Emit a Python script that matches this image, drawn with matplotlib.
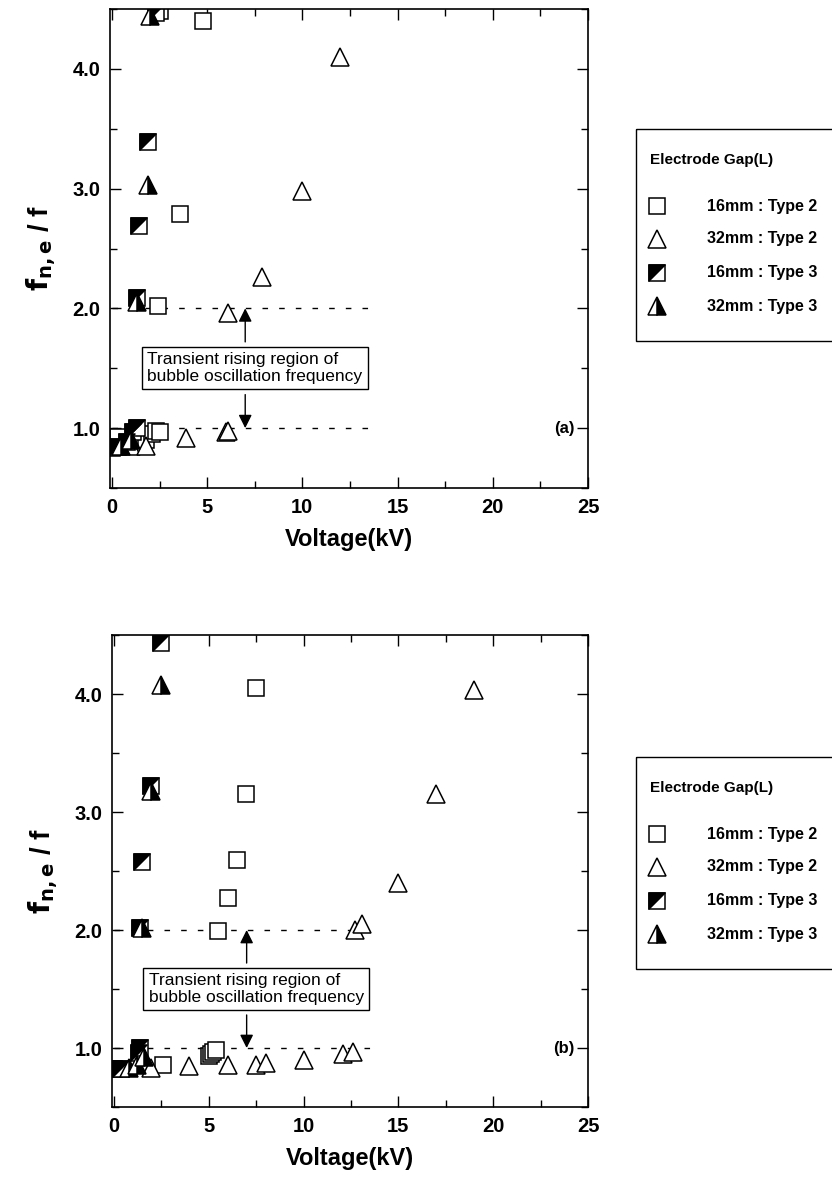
import matplotlib
matplotlib.use("Agg")
import matplotlib.pyplot as plt
from matplotlib.path import Path
from matplotlib.patches import Rectangle
from matplotlib.ticker import MultipleLocator, FormatStrFormatter

plt.rcParams['font.family'] = ['Liberation Sans', 'DejaVu Sans']

# ---- data (a) ----
sq2_a_v = [0.3, 1.2, 1.8, 2.1, 2.3, 2.5, 2.4, 3.6, 4.8, 2.5]
sq2_a_f = [0.93, 0.87, 0.90, 0.95, 0.98, 0.97, 2.02, 2.79, 4.40, 4.48]
tr2_a_v = [1.0, 1.8, 3.9, 6.0, 6.1, 6.1, 7.9, 10.0, 12.0]
tr2_a_f = [0.85, 0.85, 0.92, 0.97, 0.98, 1.96, 2.26, 2.98, 4.10]
sq3_a_v = [0.0, 0.3, 0.8, 1.1, 1.3, 1.3, 1.4, 1.9, 2.3]
sq3_a_f = [0.83, 0.84, 0.88, 0.97, 1.00, 2.09, 2.69, 3.39, 4.47]
tr3_a_v = [0.5, 1.0, 1.3, 1.9, 2.0]
tr3_a_f = [0.85, 0.90, 2.05, 3.03, 4.44]

# ---- data (b) ----
sq2_b_v = [2.6, 5.0, 5.1, 5.2, 5.4, 5.5, 6.0, 6.5, 6.95, 7.5]
sq2_b_f = [0.86, 0.93, 0.95, 0.97, 0.98, 1.99, 2.27, 2.59, 3.15, 4.05]
tr2_b_v = [1.95, 3.95, 6.0, 7.5, 8.0, 10.0, 12.1, 12.6, 12.7, 13.1, 15.0, 17.0, 19.0]
tr2_b_f = [0.83, 0.85, 0.86, 0.86, 0.87, 0.90, 0.95, 0.97, 2.00, 2.05, 2.40, 3.15, 4.03]
sq3_b_v = [0.0, 0.35, 1.3, 1.4, 1.4, 1.5, 1.95, 2.5]
sq3_b_f = [0.82, 0.82, 0.96, 1.00, 2.02, 2.58, 3.22, 4.43]
tr3_b_v = [0.8, 1.2, 1.6, 1.5, 1.95, 2.5]
tr3_b_f = [0.83, 0.86, 0.92, 2.02, 3.18, 4.08]

labels = ['16mm : Type 2', '32mm : Type 2', '16mm : Type 3', '32mm : Type 3']

# upper-left black half of a square
half_sq = Path([(-1, -1), (-1, 1), (1, 1), (-1, -1)],
               [Path.MOVETO, Path.LINETO, Path.LINETO, Path.CLOSEPOLY])

MS = 12


def draw_series(ax, sv, sf, tv, tf, hv, hf, gv, gf):
    ax.plot(sv, sf, ls='none', marker='s', ms=MS, mfc='white', mec='black', mew=1.1)
    ax.plot(tv, tf, ls='none', marker='^', ms=MS + 1, mfc='white', mec='black', mew=1.1)
    ax.plot(hv, hf, ls='none', marker='s', ms=MS, mfc='white', mec='black', mew=1.1)
    ax.plot(hv, hf, ls='none', marker=half_sq, ms=MS, mfc='black', mec='black', mew=1.1)
    ax.plot(gv, gf, ls='none', marker='^', ms=MS + 1, fillstyle='right',
            mfc='black', mfcalt='white', mec='black', mew=1.1)


def style_axes(ax, tag):
    ax.set_xlim(-0.1, 25)
    ax.set_ylim(0.5, 4.5)
    ax.xaxis.set_major_locator(MultipleLocator(5))
    ax.xaxis.set_minor_locator(MultipleLocator(2.5))
    ax.yaxis.set_major_locator(MultipleLocator(1.0))
    ax.yaxis.set_minor_locator(MultipleLocator(0.5))
    ax.yaxis.set_major_formatter(FormatStrFormatter('%.1f'))
    ax.tick_params(which='both', direction='in', top=True, right=True, width=1.0)
    ax.tick_params(which='major', length=8, labelsize=14.5, pad=7)
    ax.tick_params(which='minor', length=5)
    for lab in ax.get_xticklabels() + ax.get_yticklabels():
        lab.set_fontweight('bold')
    for sp in ax.spines.values():
        sp.set_linewidth(1.2)
    ax.set_xlabel('Voltage(kV)', fontsize=17, fontweight='bold', labelpad=8)
    ax.set_ylabel(r'$\mathbf{f_{n,e}}$ / f', fontsize=20, fontweight='bold', labelpad=10)
    # reference levels
    for lvl in (1.0, 2.0):
        ax.plot([0, 13.6], [lvl, lvl], color='black', lw=1.0, ls=(0, (4, 8)), zorder=1)
    ax.text(7.5, 1.5, 'Transient rising region of\nbubble oscillation frequency',
            ha='center', va='center', fontsize=12.5, multialignment='left', linespacing=1.15,
            bbox=dict(boxstyle='square,pad=0.3', fc='white', ec='black', lw=1.0), zorder=5)
    ax.annotate('', xy=(7.0, 2.0), xytext=(7.0, 1.72),
                arrowprops=dict(arrowstyle='-|>', color='black', lw=1.0, mutation_scale=20,
                                shrinkA=0, shrinkB=0))
    ax.annotate('', xy=(7.0, 1.0), xytext=(7.0, 1.28),
                arrowprops=dict(arrowstyle='-|>', color='black', lw=1.0, mutation_scale=20,
                                shrinkA=0, shrinkB=0))
    ax.text(24.3, 1.0, tag, ha='right', va='center', fontsize=12, fontweight='bold')


fig = plt.figure(figsize=(8.32, 11.89), dpi=100)
W, H = 832.0, 1189.0
ax_a = fig.add_axes([110 / W, 1 - 488 / H, 478 / W, 479 / H])
ax_b = fig.add_axes([112 / W, 1 - 1107 / H, 476 / W, 472 / H])

draw_series(ax_a, sq2_a_v, sq2_a_f, tr2_a_v, tr2_a_f, sq3_a_v, sq3_a_f, tr3_a_v, tr3_a_f)
style_axes(ax_a, '(a)')
draw_series(ax_b, sq2_b_v, sq2_b_f, tr2_b_v, tr2_b_f, sq3_b_v, sq3_b_f, tr3_b_v, tr3_b_f)
style_axes(ax_b, '(b)')

# overlay in pixel coordinates for the legend boxes
ov = fig.add_axes([0, 0, 1, 1], zorder=10)
ov.set_xlim(0, W)
ov.set_ylim(H, 0)
ov.axis('off')
ov.patch.set_alpha(0)


def draw_legend(top):
    ov.add_patch(Rectangle((636, top), 230, 212, fill=False, ec='black', lw=1.0, clip_on=False))
    ov.text(650, top + 31, 'Electrode Gap(L)', fontsize=11, fontweight='bold', va='center')
    rows = [top + 77, top + 110, top + 144, top + 177]
    ov.plot([657], [rows[0]], ls='none', marker='s', ms=MS, mfc='white', mec='black', mew=1.1)
    ov.plot([657], [rows[1]], ls='none', marker='^', ms=MS + 1, mfc='white', mec='black', mew=1.1)
    ov.plot([657], [rows[2]], ls='none', marker='s', ms=MS, mfc='white', mec='black', mew=1.1)
    ov.plot([657], [rows[2]], ls='none', marker=half_sq, ms=MS, mfc='black', mec='black', mew=1.1)
    ov.plot([657], [rows[3]], ls='none', marker='^', ms=MS + 1, fillstyle='right',
            mfc='black', mfcalt='white', mec='black', mew=1.1)
    for r, lab in zip(rows, labels):
        ov.text(707, r, lab, fontsize=11.5, fontweight='bold', va='center')


draw_legend(129)
draw_legend(757)

fig.savefig('out.png', dpi=100)
